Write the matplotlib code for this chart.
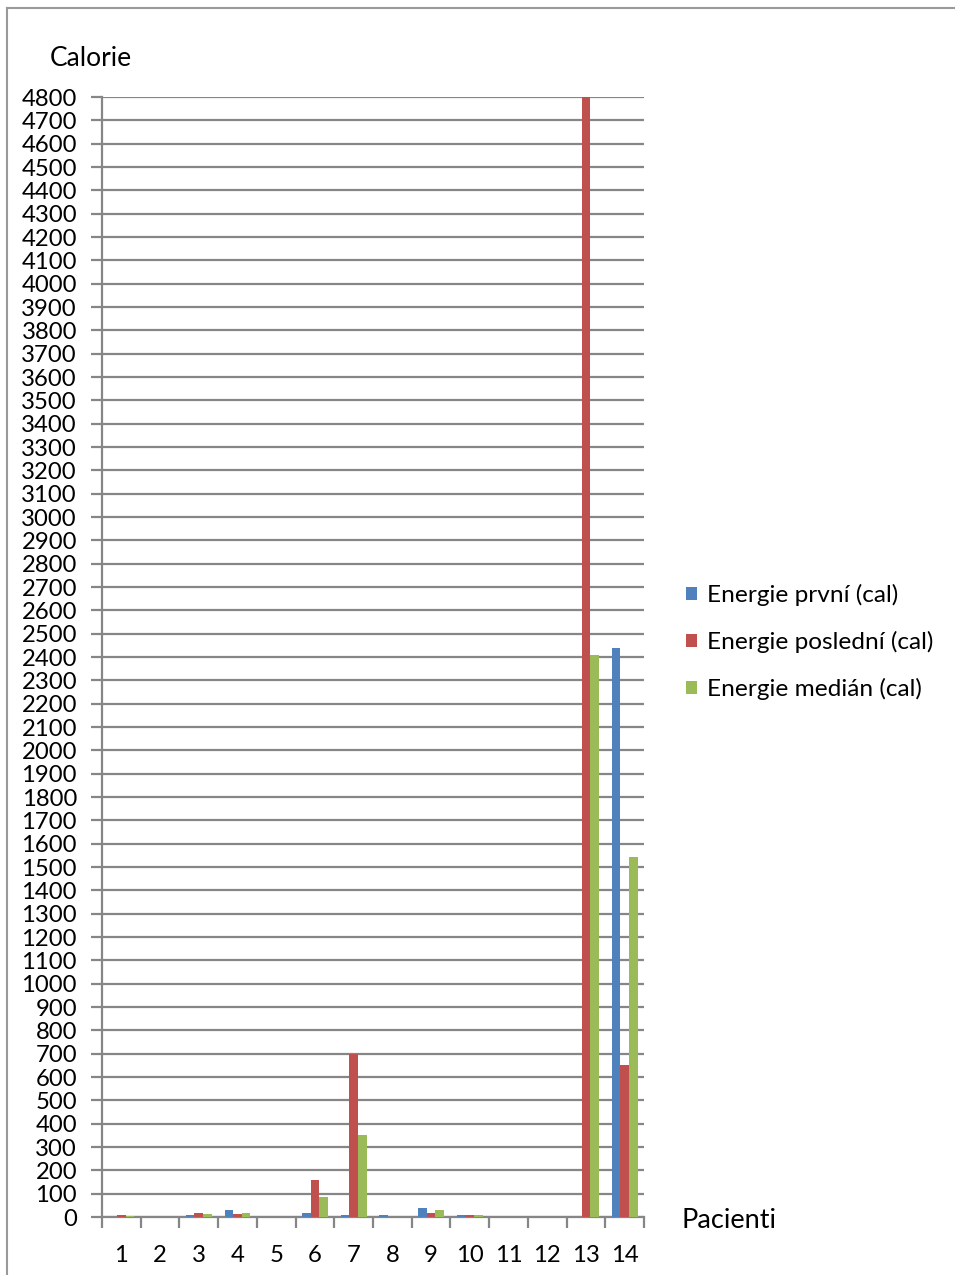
import numpy as np
import matplotlib.pyplot as plt
from matplotlib.lines import Line2D

plt.rcParams['font.family'] = ['Lato', 'DejaVu Sans']

pacienti = ['1', '2', '3', '4', '5', '6', '7', '8', '9', '10', '11', '12', '13', '14']
energie_prvni = [0, 0, 8, 30, 0, 19, 8, 8, 39, 8, 0, 0, 0, 2440]
energie_posledni = [9, 0, 19, 12, 0, 159, 700, 0, 19, 8, 0, 0, 4800, 650]
energie_median = [3, 0, 14, 19, 0, 87, 352, 2, 30, 8, 0, 0, 2410, 1544]

serie = ['Energie první (cal)', 'Energie poslední (cal)', 'Energie medián (cal)']
barvy = ['#4F81BD', '#C0504D', '#9BBB59']
sedá = '#868686'

W, H = 955, 1275
fig = plt.figure(figsize=(W / 100, H / 100), dpi=100, facecolor='white')
ax = fig.add_axes([102 / W, (H - 1217) / H, (644 - 102) / W, (1217 - 97) / H])

x = np.arange(len(pacienti))
w = 1 / 4.5
bars = []
for i, (vals, c) in enumerate(zip([energie_prvni, energie_posledni, energie_median], barvy)):
    bars.append(ax.bar(x + (i - 1) * w, vals, w, color=c, zorder=3))

ax.set_xlim(-0.5, len(pacienti) - 0.5)
ax.set_ylim(0, 4800)
ax.set_yticks(np.arange(0, 4801, 100))
ax.yaxis.grid(True, color=sedá, lw=1.6, zorder=0)
ax.set_axisbelow(True)
ax.tick_params(axis='y', direction='out', length=8, width=1.6, color=sedá,
               labelsize=17.2, pad=10)

# popisky uprostred kategorii, carky na hranicich
ax.set_xticks(x)
ax.set_xticklabels(pacienti)
ax.tick_params(axis='x', which='major', length=0, labelsize=17.2, pad=20)
ax.set_xticks(np.arange(-0.5, len(pacienti)), minor=True)
ax.tick_params(axis='x', which='minor', direction='out', length=8, width=1.6, color=sedá)

for s in ['top', 'right']:
    ax.spines[s].set_visible(False)
for s in ['left', 'bottom']:
    ax.spines[s].set_color(sedá)
    ax.spines[s].set_linewidth(1.6)

fig.text(50 / W, 1 - 58 / H, 'Calorie', fontsize=19, va='center', ha='left')
fig.text(681 / W, 1 - 1221 / H, 'Pacienti', fontsize=19.5, va='center', ha='left')

fig.legend([b[0] for b in bars], serie, loc='upper left',
           bbox_to_anchor=(664 / W, 1 - 562 / H), frameon=False, fontsize=17.6,
           handlelength=0.45, handleheight=0.45, handletextpad=0.42, labelspacing=1.02)

# ramecek grafu
fig.add_artist(Line2D([7 / W, 7 / W], [0, 1 - 8 / H], color='#9a9a9a', lw=1.5))
fig.add_artist(Line2D([7 / W, 1], [1 - 8 / H, 1 - 8 / H], color='#9a9a9a', lw=1.5))

fig.savefig('out.png', dpi=100, facecolor='white')
